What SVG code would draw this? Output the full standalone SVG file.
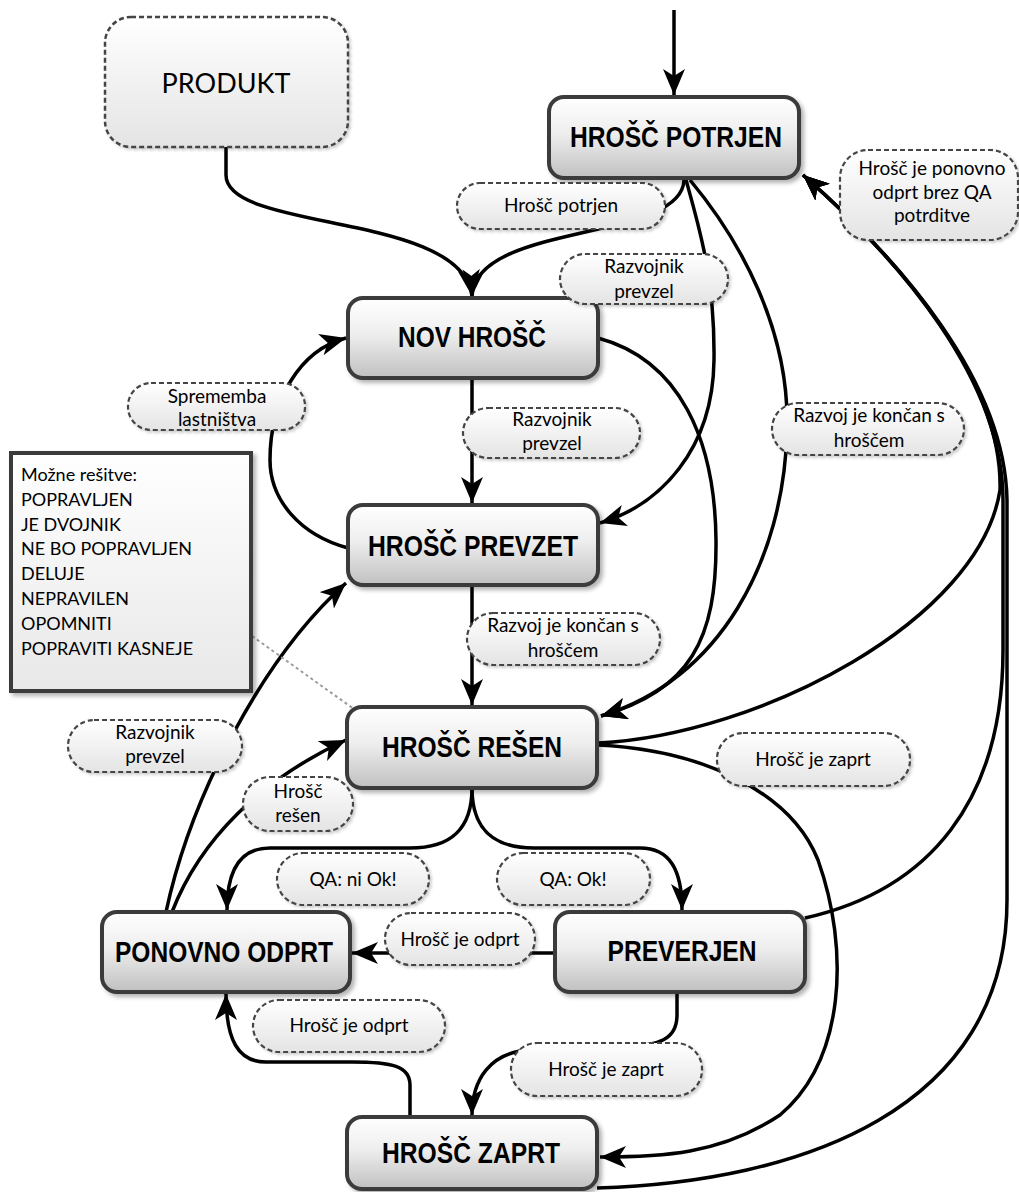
<svg xmlns="http://www.w3.org/2000/svg" width="1019" height="1192" viewBox="0 0 1019 1192">
<defs>
<linearGradient id="gNode" x1="0" y1="0" x2="0" y2="1"><stop offset="0" stop-color="#ffffff"/><stop offset="0.45" stop-color="#eeeeee"/><stop offset="1" stop-color="#c0c0c0"/></linearGradient>
<linearGradient id="gLbl" x1="0" y1="0" x2="0" y2="1"><stop offset="0" stop-color="#ffffff"/><stop offset="1" stop-color="#e4e4e4"/></linearGradient>
<linearGradient id="gNote" x1="0" y1="0" x2="0" y2="1"><stop offset="0" stop-color="#ffffff"/><stop offset="1" stop-color="#e8e8e8"/></linearGradient>
<filter id="sh" x="-10%" y="-10%" width="130%" height="140%"><feDropShadow dx="3" dy="3" stdDeviation="2" flood-color="#000" flood-opacity="0.3"/></filter>
<filter id="shl" x="-10%" y="-10%" width="130%" height="140%"><feDropShadow dx="2" dy="2" stdDeviation="1.5" flood-color="#000" flood-opacity="0.2"/></filter>
<marker id="arr" markerUnits="userSpaceOnUse" markerWidth="28" markerHeight="24" refX="26" refY="11" orient="auto"><path d="M0,0 L26,11 L0,22 L7,11 z" fill="#000"/></marker>
<style>
.node rect{fill:url(#gNode);stroke:#3a3a3a;stroke-width:4;filter:url(#sh)}
.node text{font-family:"Liberation Sans",Arial,sans-serif;font-weight:bold;font-size:29px;fill:#000;text-anchor:middle}
.lbl rect{fill:url(#gLbl);stroke:#444;stroke-width:2.2;stroke-dasharray:5,3;filter:url(#shl)}
.lbl text{font-family:Lato,"Open Sans",sans-serif;font-size:19px;fill:#000;text-anchor:middle}
.con path{fill:none;stroke:#000;stroke-width:3.5}
.con path.a{marker-end:url(#arr)}
</style>
</defs>
<rect width="1019" height="1192" fill="#ffffff"/>

<g id="connectors" class="con">
<path class="a" d="M674,10 L674,95"/>
<path class="a" d="M226,147 L226,175 C226,232 462,212 472,296"/>
<path class="a" d="M684,180 C682,242 476,222 472,296"/>
<path class="a" d="M686,180 C700,230 715,280 714,360 C713,450 660,505 600,523"/>
<path class="a" d="M690,180 C740,240 790,330 787,430 C784,560 720,680 601,716"/>
<path class="a" d="M598,338 C680,360 715,440 716,540 C717,640 690,690 601,716"/>
<path class="a" d="M472,378 L472,503"/>
<path class="a" d="M472,585 L472,705"/>
<path class="a" d="M348,548 C300,535 270,500 270,460 C270,400 300,350 346,338"/>
<path class="a" d="M472,788 C472,830 450,848 410,848 L270,848 C240,848 227,870 227,910"/>
<path class="a" d="M472,788 C472,830 494,848 534,848 L640,848 C670,848 682,870 682,910"/>
<path class="a" d="M555,953 L352,953"/>
<path class="a" d="M166,912 C190,800 260,660 346,583"/>
<path class="a" d="M172,912 C200,840 260,780 346,740"/>
<path class="a" d="M677,993 L677,1015 C677,1040 660,1045 620,1048 L530,1050 C490,1052 472,1080 472,1115"/>
<path class="a" d="M410,1117 L410,1085 C410,1066 392,1062 352,1062 L266,1062 C238,1062 226,1040 226,994"/>
<path class="a" d="M598,745 C700,750 790,790 818,860 C850,950 845,1060 780,1115 C720,1155 660,1157 600,1157"/>
<path class="a" d="M598,743 C760,735 980,620 1000,490 C1003,380 900,260 803,175"/>
<path class="a" d="M805,918 C930,890 1003,800 1003,650 L1003,500 C1003,380 900,260 803,175"/>
<path class="a" d="M597,1188 C800,1182 1007,1110 1007,900 L1007,500 C1005,380 900,260 803,175"/>
<path d="M252,636 L358,712" style="stroke:#9a9a9a;stroke-width:2;stroke-dasharray:3,3"/>
</g>

<g id="produkt">
<rect x="105" y="17" width="243" height="130" rx="26" fill="url(#gLbl)" stroke="#444" stroke-width="2.5" stroke-dasharray="5,3" filter="url(#shl)"/>
<text x="226" y="93" font-family="Lato,'Open Sans',sans-serif" font-size="27" text-anchor="middle">PRODUKT</text>
</g>

<g id="n_potrjen" class="node"><rect x="549" y="97" width="250" height="81" rx="15"/><text x="676" y="147" textLength="212" lengthAdjust="spacingAndGlyphs">HROŠČ POTRJEN</text></g>
<g id="n_nov" class="node"><rect x="348" y="298" width="250" height="80" rx="15"/><text x="472" y="347" textLength="148" lengthAdjust="spacingAndGlyphs">NOV HROŠČ</text></g>
<g id="n_prevzet" class="node"><rect x="348" y="505" width="250" height="80" rx="15"/><text x="473" y="556" textLength="210" lengthAdjust="spacingAndGlyphs">HROŠČ PREVZET</text></g>
<g id="n_resen" class="node"><rect x="347" y="707" width="250" height="81" rx="15"/><text x="472" y="757" textLength="180" lengthAdjust="spacingAndGlyphs">HROŠČ REŠEN</text></g>
<g id="n_ponovno" class="node"><rect x="102" y="912" width="248" height="80" rx="15"/><text x="224" y="962" textLength="218" lengthAdjust="spacingAndGlyphs">PONOVNO ODPRT</text></g>
<g id="n_preverjen" class="node"><rect x="555" y="912" width="250" height="80" rx="15"/><text x="682" y="961" textLength="149" lengthAdjust="spacingAndGlyphs">PREVERJEN</text></g>
<g id="n_zaprt" class="node"><rect x="347" y="1117" width="250" height="72" rx="15"/><text x="471" y="1163" textLength="178" lengthAdjust="spacingAndGlyphs">HROŠČ ZAPRT</text></g>

<g id="note">
<rect x="11" y="453" width="240" height="238" fill="url(#gNote)" stroke="#3a3a3a" stroke-width="4" filter="url(#sh)"/>
<g font-family="Lato,'Open Sans',sans-serif" font-size="18" fill="#000">
<text x="21" y="481">Možne rešitve:</text>
<text x="21" y="506">POPRAVLJEN</text>
<text x="21" y="531">JE DVOJNIK</text>
<text x="21" y="555">NE BO POPRAVLJEN</text>
<text x="21" y="580">DELUJE</text>
<text x="21" y="605">NEPRAVILEN</text>
<text x="21" y="630">OPOMNITI</text>
<text x="21" y="655">POPRAVITI KASNEJE</text>
</g>
</g>

<g id="l1" class="lbl"><rect x="457" y="183" width="208" height="46" rx="23"/><text x="561" y="212">Hrošč potrjen</text></g>
<g id="l2" class="lbl"><rect x="560" y="254" width="168" height="50" rx="25"/><text x="644" y="273">Razvojnik</text><text x="644" y="298">prevzel</text></g>
<g id="l3" class="lbl"><rect x="128" y="383" width="177" height="47" rx="23"/><text x="217" y="403">Sprememba</text><text x="217" y="426">lastništva</text></g>
<g id="l4" class="lbl"><rect x="463" y="408" width="177" height="50" rx="25"/><text x="552" y="426">Razvojnik</text><text x="552" y="450">prevzel</text></g>
<g id="l5" class="lbl"><rect x="772" y="403" width="192" height="52" rx="26"/><text x="869" y="422">Razvoj je končan s</text><text x="869" y="447">hroščem</text></g>
<g id="l6" class="lbl"><rect x="467" y="613" width="193" height="52" rx="26"/><text x="563" y="632">Razvoj je končan s</text><text x="563" y="657">hroščem</text></g>
<g id="l7" class="lbl"><rect x="840" y="150" width="178" height="90" rx="28"/><text x="932" y="175">Hrošč je ponovno</text><text x="932" y="199">odprt brez QA</text><text x="932" y="222">potrditve</text></g>
<g id="l8" class="lbl"><rect x="68" y="720" width="174" height="52" rx="26"/><text x="155" y="739">Razvojnik</text><text x="155" y="763">prevzel</text></g>
<g id="l9" class="lbl"><rect x="243" y="777" width="110" height="54" rx="27"/><text x="298" y="798">Hrošč</text><text x="298" y="822">rešen</text></g>
<g id="l10" class="lbl"><rect x="277" y="853" width="152" height="52" rx="26"/><text x="353" y="886">QA: ni Ok!</text></g>
<g id="l11" class="lbl"><rect x="497" y="853" width="153" height="52" rx="26"/><text x="573" y="886">QA: Ok!</text></g>
<g id="l12" class="lbl"><rect x="385" y="913" width="150" height="52" rx="26"/><text x="460" y="946">Hrošč je odprt</text></g>
<g id="l13" class="lbl"><rect x="717" y="733" width="193" height="53" rx="26"/><text x="813" y="766">Hrošč je zaprt</text></g>
<g id="l14" class="lbl"><rect x="253" y="1000" width="192" height="52" rx="26"/><text x="349" y="1032">Hrošč je odprt</text></g>
<g id="l15" class="lbl"><rect x="511" y="1043" width="191" height="53" rx="26"/><text x="606" y="1076">Hrošč je zaprt</text></g>
</svg>
